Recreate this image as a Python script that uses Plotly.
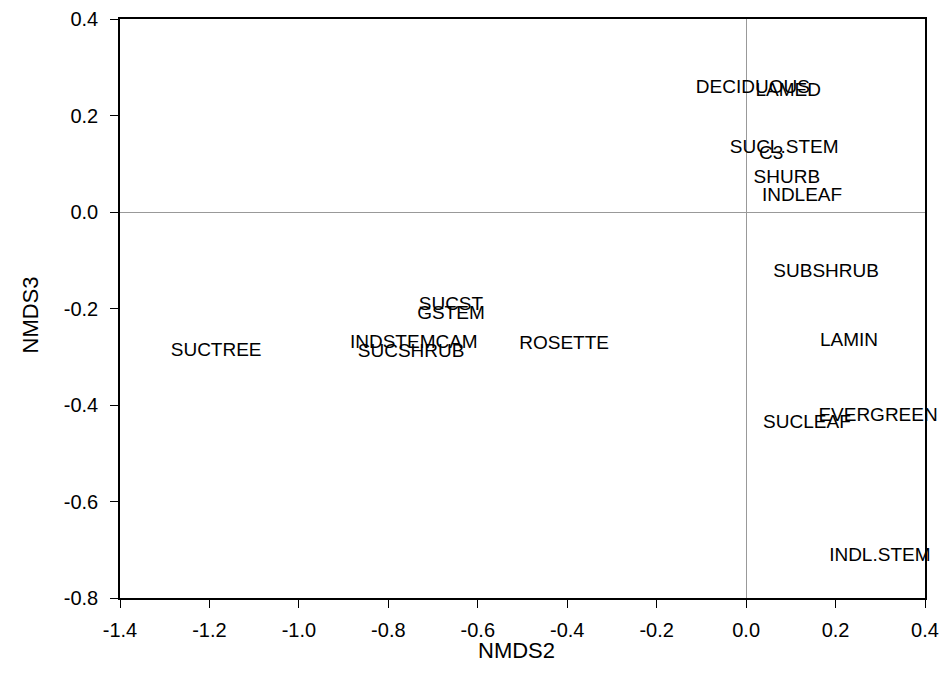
import plotly.graph_objects as go

labels = ["DECIDUOUS", "LAMED", "SUCL.STEM", "C3", "SHURB", "INDLEAF",
          "SUBSHRUB", "LAMIN", "EVERGREEN", "SUCLEAF", "INDL.STEM",
          "SUCTREE", "SUCST", "GSTEM", "INDSTEMCAM", "SUCSHRUB", "ROSETTE"]
nmds2 = [0.015, 0.094, 0.085, 0.056, 0.091, 0.125,
         0.179, 0.230, 0.295, 0.136, 0.299,
         -1.185, -0.660, -0.660, -0.743, -0.749, -0.407]
nmds3 = [0.257, 0.251, 0.133, 0.120, 0.070, 0.033,
         -0.124, -0.267, -0.423, -0.437, -0.713,
         -0.288, -0.193, -0.211, -0.271, -0.290, -0.274]

x_ticks = [-1.4, -1.2, -1.0, -0.8, -0.6, -0.4, -0.2, 0.0, 0.2, 0.4]
y_ticks = [0.4, 0.2, 0.0, -0.2, -0.4, -0.6, -0.8]
x_title = "NMDS2"
y_title = "NMDS3"

FONT = "Liberation Sans, Arial, sans-serif"

fig = go.Figure()
fig.add_trace(go.Scatter(
    x=nmds2, y=nmds3, text=labels, mode="text",
    textposition="middle center",
    textfont=dict(family=FONT, size=19, color="black"),
    cliponaxis=False, showlegend=False,
))

axis_common = dict(
    showline=True, linecolor="black", linewidth=1.5, mirror=True,
    ticks="outside", ticklen=8, tickwidth=1.2, tickcolor="black",
    showgrid=False, zeroline=True, zerolinecolor="#999999", zerolinewidth=1,
    automargin=False,
    tickfont=dict(family=FONT, size=20, color="black"),
)

fig.update_layout(
    width=931, height=679,
    margin=dict(l=112, r=14, t=11, b=89),
    paper_bgcolor="white", plot_bgcolor="white",
    xaxis=dict(range=[-1.4, 0.4], tickvals=x_ticks,
               ticktext=[f"{v:.1f}" for v in x_ticks],
               ticklabelstandoff=5, **axis_common),
    yaxis=dict(range=[-0.8, 0.4], tickvals=y_ticks,
               ticktext=[f"{v:.1f}" for v in y_ticks],
               ticklabelstandoff=8, **axis_common),
    annotations=[
        dict(text=x_title, xref="paper", yref="paper", x=0.5, y=0,
             xanchor="center", yanchor="middle", xshift=-6, yshift=-52,
             showarrow=False, font=dict(family=FONT, size=22, color="black")),
        dict(text=y_title, xref="paper", yref="paper", x=0, y=0.5,
             xanchor="center", yanchor="middle", xshift=-90, yshift=-7,
             textangle=-90, showarrow=False,
             font=dict(family=FONT, size=22, color="black")),
    ],
)

fig.write_html("out.html")
